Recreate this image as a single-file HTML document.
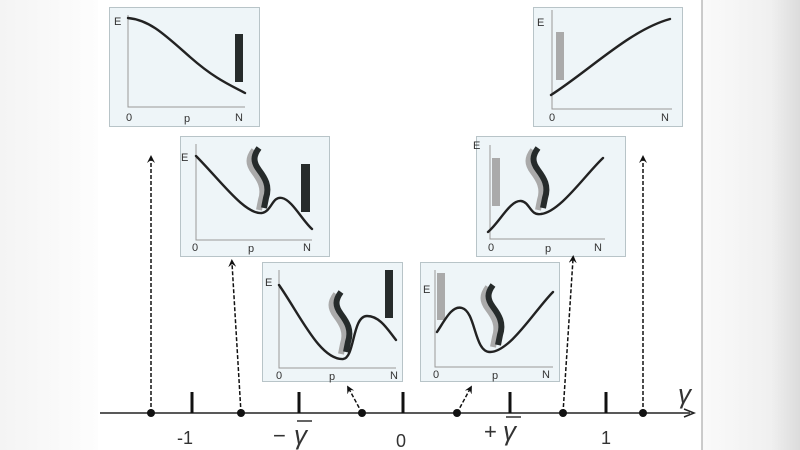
<!DOCTYPE html>
<html><head><meta charset="utf-8"><style>
html,body{margin:0;padding:0;width:800px;height:450px;overflow:hidden;background:#fff}
svg{display:block}
text{font-family:"Liberation Sans",sans-serif;fill:#333}
</style></head><body>
<svg width="800" height="450" viewBox="0 0 800 450" xmlns="http://www.w3.org/2000/svg">
<defs>
<linearGradient id="gl" x1="0" x2="1"><stop offset="0" stop-color="#f4f4f4"/><stop offset="1" stop-color="#fdfdfd"/></linearGradient>
<linearGradient id="gr" x1="0" x2="1"><stop offset="0" stop-color="#fafafa"/><stop offset="0.7" stop-color="#f0f0f0"/><stop offset="1" stop-color="#dcdcdc"/></linearGradient>
<marker id="ah" markerWidth="8" markerHeight="8" refX="4" refY="4" orient="auto" markerUnits="userSpaceOnUse"><path d="M0,0 L8,4 L0,8 L3,4 Z" fill="#111"/></marker>
<g id="ss"><path d="M-3,2 C-9,10 -9,16 -3,24 S8,40 4,52 L2,62" fill="none" stroke="#aaa" stroke-width="6"/><path d="M2,0 C-4,8 -4,14 2,22 S13,38 9,50 L7,60" fill="none" stroke="#262b2b" stroke-width="6"/></g>
</defs>
<rect x="0" y="0" width="98" height="450" fill="url(#gl)"/>
<rect x="702" y="0" width="98" height="450" fill="url(#gr)"/>
<line x1="702" y1="0" x2="702" y2="450" stroke="#999" stroke-width="1"/>

<g stroke="#b8c4c8" fill="#eef5f8">
<rect x="109.5" y="7.5" width="150" height="119"/>
<rect x="180.5" y="136.5" width="149" height="120"/>
<rect x="262.5" y="262.5" width="140" height="119"/>
<rect x="420.5" y="262.5" width="139" height="119"/>
<rect x="476.5" y="136.5" width="149" height="120"/>
<rect x="533.5" y="7.5" width="149" height="119"/>
</g>
<g stroke="#999" stroke-width="1" fill="none">
<path d="M128,15 V107 H245"/>
<path d="M196,144 V240 H312"/>
<path d="M279,270 V368 H396"/>
<path d="M435,270 V367 H553"/>
<path d="M490,145 V239 H605"/>
<path d="M552,10 V109 H672"/>
</g>
<rect x="235" y="34" width="8" height="48" fill="#262b2b"/>
<rect x="301" y="164" width="9" height="48" fill="#262b2b"/>
<rect x="385" y="270" width="8" height="48" fill="#262b2b"/>
<rect x="437" y="273" width="8" height="47" fill="#aaa"/>
<rect x="492" y="158" width="8" height="48" fill="#aaa"/>
<rect x="556" y="32" width="8" height="48" fill="#aaa"/>
<use href="#ss" transform="translate(257,148)"/>
<use href="#ss" transform="translate(339,292)"/>
<use href="#ss" transform="translate(491,285)"/>
<use href="#ss" transform="translate(536,148)"/>
<g fill="none" stroke="#222" stroke-width="2.4" stroke-linecap="round">
<path d="M128,18 C150,20 165,35 190,57 S230,85 245,93"/>
<path d="M196,156 C220,180 245,215 262,213 C272,211 272,196 282,198 C292,200 302,220 312,229"/>
<path d="M279,285 C300,315 320,360 343,359 C355,358 352,316 367,316 C380,316 388,330 396,340"/>
<path d="M437,332 C445,320 452,305 462,308 C476,312 474,352 490,352 C510,352 535,310 553,292"/>
<path d="M488,232 C500,222 510,200 521,201 C530,202 530,216 541,214 C560,212 585,175 603,158"/>
<path d="M551,95 C590,70 630,30 670,19"/>
</g>
<g font-size="11">
<text x="114" y="25">E</text><text x="126" y="121">0</text><text x="184" y="122">p</text><text x="235" y="121">N</text>
<text x="181" y="161">E</text><text x="192" y="251">0</text><text x="248" y="252">p</text><text x="303" y="251">N</text>
<text x="265" y="286">E</text><text x="276" y="379">0</text><text x="329" y="380">p</text><text x="390" y="379">N</text>
<text x="423" y="293">E</text><text x="433" y="378">0</text><text x="492" y="379">p</text><text x="542" y="378">N</text>
<text x="473" y="149">E</text><text x="488" y="251">0</text><text x="545" y="252">p</text><text x="594" y="251">N</text>
<text x="537" y="26">E</text><text x="549" y="121">0</text><text x="661" y="121">N</text>
</g>
<line x1="100" y1="413" x2="690" y2="413" stroke="#222" stroke-width="1.5"/>
<path d="M684,409 L694,413 L684,417" fill="none" stroke="#222" stroke-width="1.5"/>
<g stroke="#111" stroke-width="3">
<line x1="192" y1="392" x2="192" y2="413"/><line x1="299" y1="392" x2="299" y2="413"/>
<line x1="403" y1="392" x2="403" y2="413"/><line x1="510" y1="392" x2="510" y2="413"/>
<line x1="606" y1="392" x2="606" y2="413"/>
</g>
<g stroke="#111" stroke-width="1.5" stroke-dasharray="4,2" marker-end="url(#ah)">
<line x1="151" y1="413" x2="151" y2="159"/>
<line x1="241" y1="413" x2="232" y2="263"/>
<line x1="362" y1="413" x2="349" y2="389"/>
<line x1="457" y1="413" x2="470" y2="389"/>
<line x1="563" y1="413" x2="573" y2="259"/>
<line x1="643" y1="413" x2="643" y2="159"/>
</g>
<g fill="#111">
<circle cx="151" cy="413" r="4"/><circle cx="241" cy="413" r="4"/><circle cx="362" cy="413" r="4"/>
<circle cx="457" cy="413" r="4"/><circle cx="563" cy="413" r="4"/><circle cx="643" cy="413" r="4"/>
</g>
<g font-size="18" fill="#222">
<text x="177" y="444">-1</text>
<text x="273" y="443" font-size="22">−</text>
<text x="294" y="444" font-size="26" font-style="italic" font-family="Liberation Serif">γ</text>
<line x1="297" y1="421" x2="312" y2="421" stroke="#222" stroke-width="1.4"/>
<text x="396" y="447">0</text>
<text x="484" y="439" font-size="22">+</text>
<text x="503" y="440" font-size="26" font-style="italic" font-family="Liberation Serif">γ</text>
<line x1="506" y1="417" x2="521" y2="417" stroke="#222" stroke-width="1.4"/>
<text x="601" y="444">1</text>
</g>
<text x="678" y="403" font-size="26" font-style="italic" font-family="Liberation Serif" fill="#222">γ</text>
</svg>
</body></html>
